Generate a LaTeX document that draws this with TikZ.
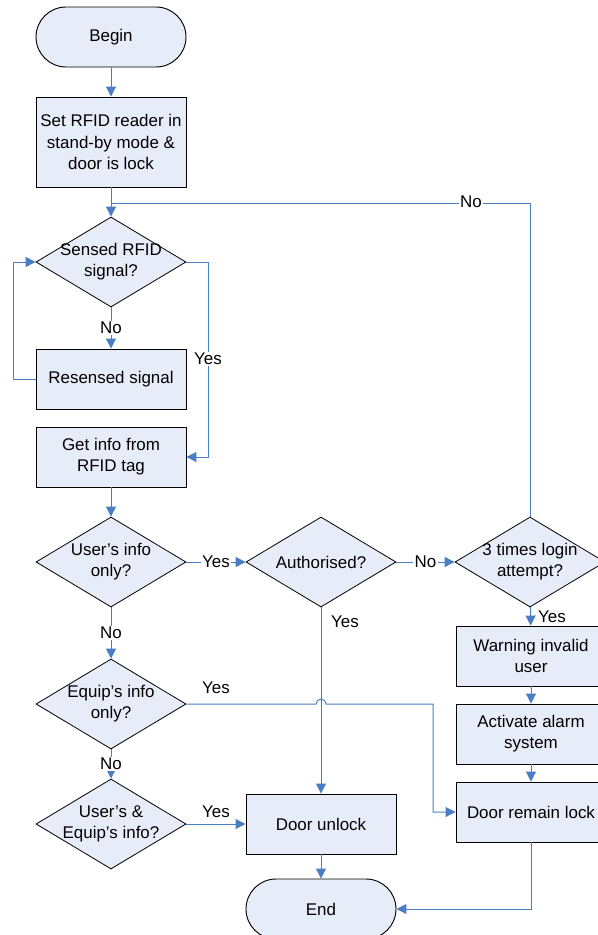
\documentclass[tikz,border=0pt]{standalone}
\usepackage{fontspec}
\setmainfont{Liberation Sans}
\usetikzlibrary{shapes.geometric,arrows.meta}

\definecolor{boxfill}{RGB}{231,237,248}
\definecolor{flowblue}{RGB}{74,126,196}

\tikzset{
    every node/.style={font=\fontsize{12.7}{15.8}\selectfont},
    process/.style={rectangle, draw=black, fill=boxfill, line width=0.7pt,
        minimum width=112.5pt, minimum height=45pt, align=center, inner sep=2pt},
    terminal/.style={process, rounded corners=22.5pt},
    decision/.style={diamond, draw=black, fill=boxfill, line width=0.6pt,
        minimum width=112.5pt, minimum height=67.5pt, inner sep=-15pt, align=center},
    link/.style={draw=flowblue, line width=0.75pt},
    flow/.style={link, -{Triangle[length=7.5pt,width=7.5pt]}},
    answer/.style={fill=white, inner sep=1pt}
}

\begin{document}
\begin{tikzpicture}[x=0.75pt, y=-0.75pt]
    \useasboundingbox (0,0) rectangle (597,935);

    \node[terminal] (begin) at (111,37) {Begin};
    \node[process, minimum height=67.5pt] (standby) at (111,142) {Set RFID reader in\\stand-by mode \&\\door is lock};
    \node[decision] (sensed) at (111,262) {Sensed RFID\\signal?};
    \node[process] (resensed) at (111,379) {Resensed signal};
    \node[process] (getinfo) at (111,457) {Get info from\\RFID tag};
    \node[decision] (useronly) at (111,562) {User's info\\only?};
    \node[decision] (equiponly) at (111,704) {Equip's info\\only?};
    \node[decision] (both) at (111,824) {User's \&\\Equip's info?};
    \node[decision] (authorised) at (321,562) {Authorised?};
    \node[process] (unlock) at (321,824) {Door unlock};
    \node[terminal] (end) at (321,909) {End};
    \node[decision] (login) at (530,562) {3 times login\\attempt?};
    \node[process] (warning) at (531,656) {Warning invalid\\user};
    \node[process] (alarm) at (531,734) {Activate alarm\\system};
    \node[process] (remain) at (531,812) {Door remain lock};

    \coordinate (retry) at (111,203);

    \draw[flow] (begin) -- (standby);
    \draw[flow] (standby) -- (sensed);
    \draw[link] (login.north) |- (retry);
    \node[answer] at (471,202) {No};

    \draw[flow] (sensed) -- (resensed) node[midway, answer] {No};
    \draw[flow] (resensed.west) -- (13,379) |- (sensed.west);
    \draw[flow] (sensed.east) -- (208,262) |- (getinfo.east);
    \node[answer] at (208,359) {Yes};

    \draw[flow] (getinfo) -- (useronly);
    \draw[flow] (useronly) -- (authorised) node[midway, answer] {Yes};
    \draw[flow] (authorised) -- (login) node[midway, answer] {No};
    \draw[flow] (login) -- (warning) node[midway, right=2pt] {Yes};
    \draw[flow] (warning) -- (alarm);
    \draw[flow] (alarm) -- (remain);

    \draw[flow] (authorised) -- (unlock);
    \node at (345,622) {Yes};

    \draw[flow] (useronly) -- (equiponly) node[midway, answer] {No};
    \draw[flow] (equiponly.east) -- (316,704) arc (180:360:5) -- (433,704) |- (remain.west);
    \node at (216,688) {Yes};

    \draw[flow] (equiponly) -- (both) node[midway, answer] {No};
    \draw[flow] (both) -- (unlock) node[midway, above=1pt] {Yes};

    \draw[flow] (unlock) -- (end);
    \draw[flow] (remain.south) |- (end.east);
\end{tikzpicture}
\end{document}
